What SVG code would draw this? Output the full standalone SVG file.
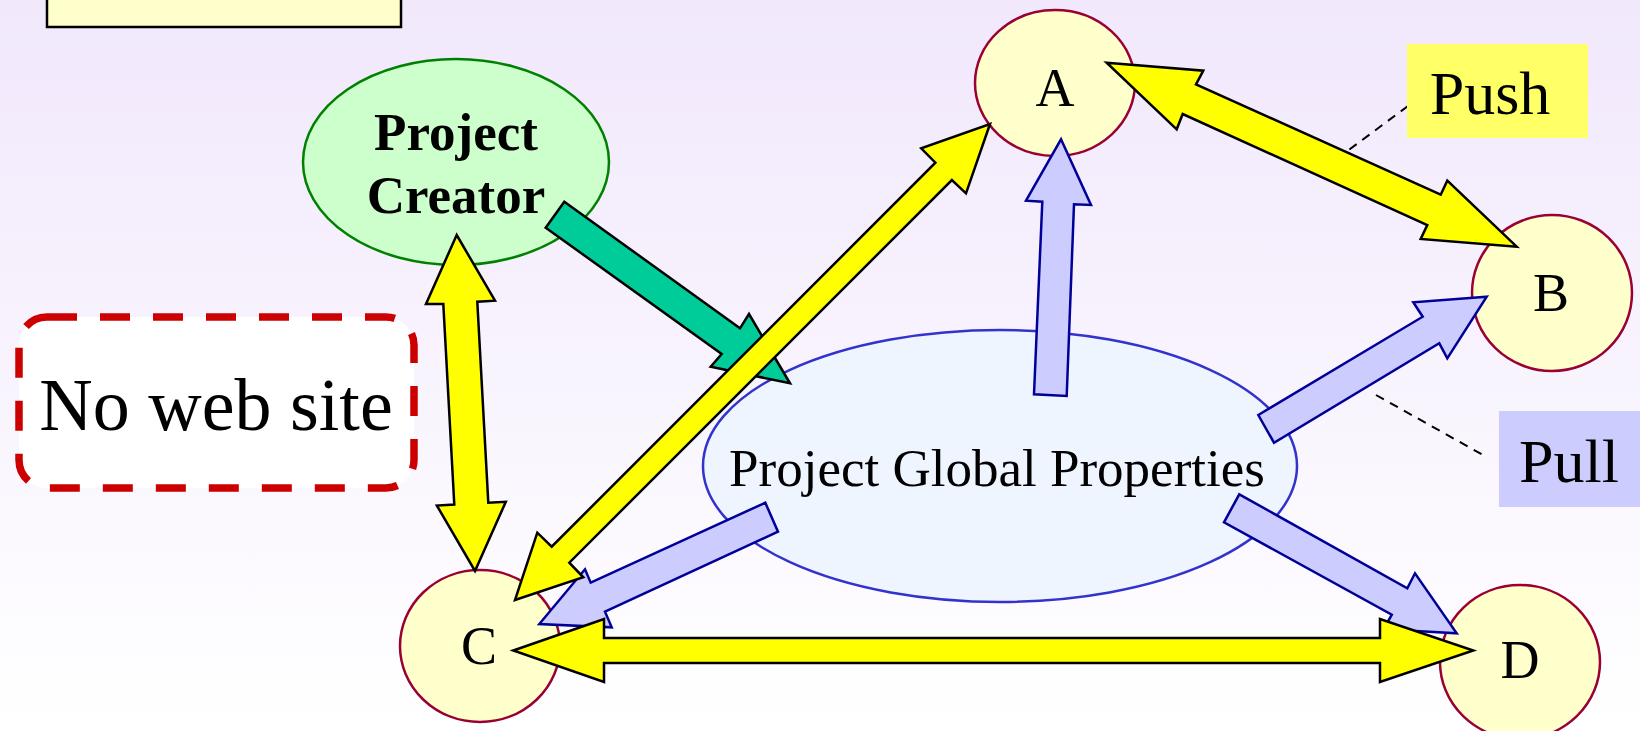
<svg xmlns="http://www.w3.org/2000/svg" width="1640" height="731" viewBox="0 0 1640 731">
  <defs>
    <linearGradient id="bg" x1="0" y1="0" x2="0" y2="1">
      <stop offset="0" stop-color="#F1E8FC"/>
      <stop offset="1" stop-color="#FFFFFF"/>
    </linearGradient>
    <style>
      .t { font-family: "Liberation Serif", "Times New Roman", serif; fill: #000; text-anchor: middle; }
      .node { fill: #FFFFCC; stroke: #990033; stroke-width: 2.5; }
      .yarrow { fill: #FFFF00; stroke: #000; stroke-width: 2.5; stroke-linejoin: miter; }
      .barrow { fill: #CCCCFF; stroke: #000099; stroke-width: 2.5; stroke-linejoin: miter; }
      .garrow { fill: #00CC99; stroke: #000; stroke-width: 2.5; stroke-linejoin: miter; }
      .leader { stroke: #000; stroke-width: 2; stroke-dasharray: 9 7; fill: none; }
    </style>
  </defs>

  <rect x="0" y="0" width="1640" height="731" fill="url(#bg)"/>

  <g id="topbox">
    <rect x="47" y="-10" width="354" height="37" fill="#FFFFCC" stroke="#000" stroke-width="2.5"/>
  </g>

  <g id="noweb">
    <rect x="19" y="317" width="395" height="171" rx="28" ry="28" fill="#FFFFFF" stroke="#CC0000" stroke-width="7.5" stroke-dasharray="30 23"/>
    <text class="t" x="216" y="430" font-size="74">No web site</text>
  </g>

  <g id="creator">
    <ellipse cx="456" cy="162" rx="153" ry="103" fill="#CCFFCC" stroke="#008000" stroke-width="2.5"/>
    <text class="t" x="456" y="150" font-size="53" font-weight="bold">Project</text>
    <text class="t" x="456" y="213" font-size="53" font-weight="bold">Creator</text>
  </g>

  <g id="pgp">
    <ellipse cx="1000" cy="466" rx="297" ry="136" fill="#EEF5FF" stroke="#3333CC" stroke-width="2.5"/>
    <text class="t" x="997" y="486" font-size="53">Project Global Properties</text>
  </g>

  <g id="nodeA">
    <ellipse class="node" cx="1055" cy="83" rx="80" ry="73"/>
    <text class="t" x="1055" y="106" font-size="54">A</text>
  </g>
  <g id="nodeB">
    <ellipse class="node" cx="1552" cy="293" rx="80" ry="78"/>
    <text class="t" x="1551" y="311" font-size="54">B</text>
  </g>
  <g id="nodeC">
    <ellipse class="node" cx="480" cy="646" rx="80" ry="76"/>
    <text class="t" x="479" y="664" font-size="54">C</text>
  </g>
  <g id="nodeD">
    <ellipse class="node" cx="1520" cy="662" rx="80" ry="77"/>
    <text class="t" x="1520" y="678" font-size="54">D</text>
  </g>

  <g id="connectors">
    <!-- Creator -> PGP (green) -->
    <polygon class="garrow" points="564.3,201.7 740,328.3 749,314 790,383.3 710.7,366.7 721.7,354 545.7,227.7"/>
    <!-- PGP -> A -->
    <polygon class="barrow" points="1034,394.3 1042.3,201.7 1026,200.7 1061,139.3 1091,205 1074,204.3 1066.7,396"/>
    <!-- PGP -> B -->
    <polygon class="barrow" points="1258.3,415 1422.7,316.7 1413.3,302.3 1486.7,296.7 1447.3,358.3 1439.3,343.3 1274,442.7"/>
    <!-- PGP -> D -->
    <polygon class="barrow" points="1239.3,494.3 1407.3,588.3 1415,573.3 1456.7,633.3 1383.7,629.2 1391.8,614.7 1224,522.3"/>
    <!-- PGP -> C -->
    <polygon class="barrow" points="765.3,502.7 590.7,582.7 585,569.3 539.3,624 611.7,627.3 605,611.7 778,531.7"/>
    <!-- A <-> B -->
    <polygon class="yarrow" points="1106.7,62.7 1203.3,70.7 1196,84.3 1440.7,194.7 1447.3,180.7 1516.7,246.7 1420.7,239 1427.3,225 1182.7,114 1176.7,129.3"/>
    <!-- Creator <-> C -->
    <polygon class="yarrow" points="456.7,235 495,300.7 477.3,301.7 488.3,502.8 505.8,501.8 475,571 436.9,505.6 454.3,504.6 443.3,304 426,304"/>
    <!-- A <-> C -->
    <polygon class="yarrow" points="990,124 966,193.3 951.9,180 569.3,562.7 583.3,577.3 515,600 537.3,532.7 551.7,546.7 935.4,162.7 921.2,148.3"/>
    <!-- C <-> D -->
    <polygon class="yarrow" points="513.3,650.5 604,619 604,638 1380,638 1380,619 1473.3,650.5 1380,682 1380,663 604,663 604,682"/>
  </g>

  <g id="push">
    <line class="leader" x1="1408" y1="106" x2="1346" y2="152"/>
    <rect x="1407" y="44" width="181" height="94" fill="#FFFF66"/>
    <text class="t" x="1490" y="114" font-size="62">Push</text>
  </g>

  <g id="pull">
    <line class="leader" x1="1376" y1="395" x2="1483" y2="455"/>
    <rect x="1499" y="411" width="141" height="96" fill="#CCCCFF"/>
    <text class="t" x="1569" y="482" font-size="62">Pull</text>
  </g>
</svg>
